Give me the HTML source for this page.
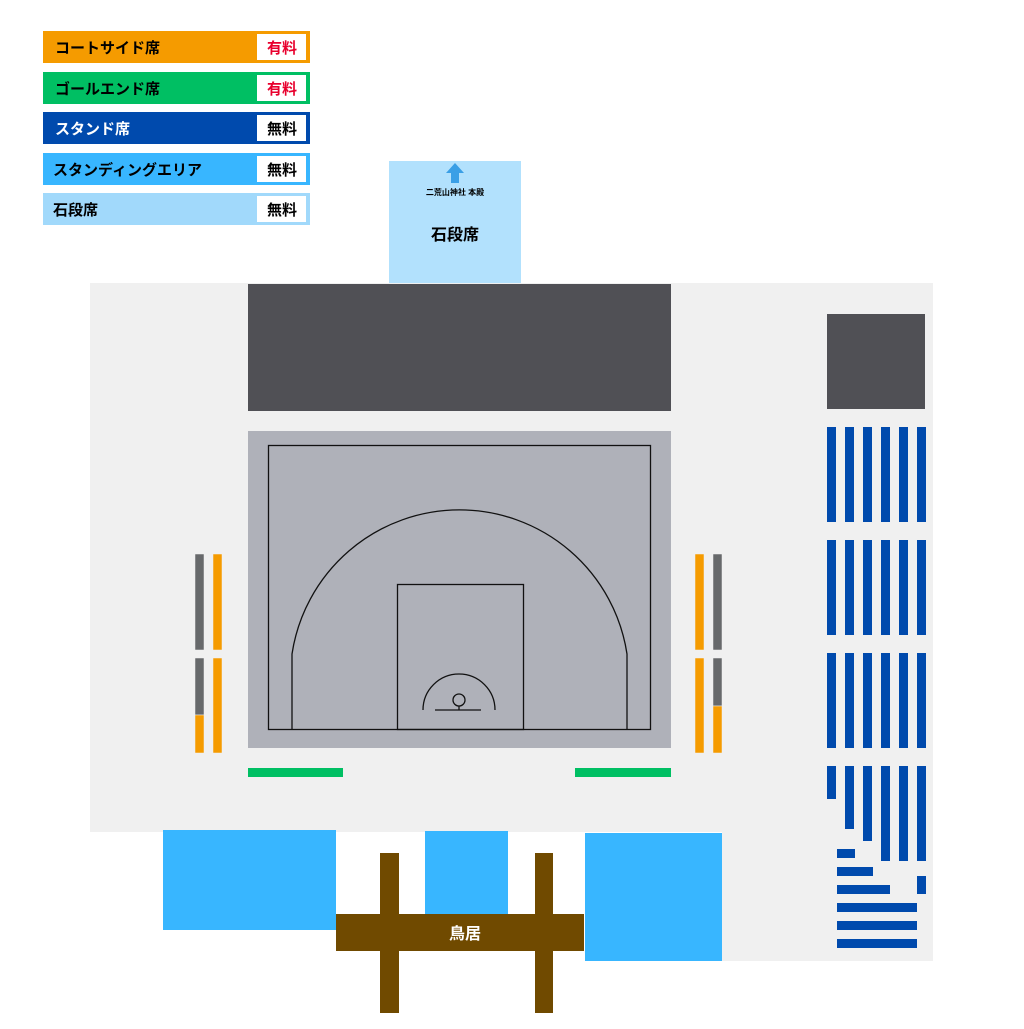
<!DOCTYPE html>
<html><head><meta charset="utf-8"><style>
body{margin:0;background:#fff}
svg text{font-family:"Liberation Sans","Noto Sans CJK JP",sans-serif;font-weight:bold}
</style></head><body>
<svg width="1024" height="1024" viewBox="0 0 1024 1024" xmlns="http://www.w3.org/2000/svg">
<!-- legend -->
<rect x="43" y="31" width="267" height="32" fill="#f59b00"/><rect x="257" y="34" width="49" height="26" fill="#fff"/>
<text x="55" y="53" font-size="15">コートサイド席</text><text x="282" y="53" font-size="15" fill="#e8002d" text-anchor="middle">有料</text>
<rect x="43" y="72" width="267" height="32" fill="#00bf63"/><rect x="257" y="75" width="49" height="26" fill="#fff"/>
<text x="55" y="94" font-size="15">ゴールエンド席</text><text x="282" y="94" font-size="15" fill="#e8002d" text-anchor="middle">有料</text>
<rect x="43" y="112" width="267" height="32" fill="#004aad"/><rect x="257" y="115" width="49" height="26" fill="#fff"/>
<text x="55" y="134" font-size="15" fill="#fff">スタンド席</text><text x="282" y="134" font-size="15" text-anchor="middle">無料</text>
<rect x="43" y="153" width="267" height="32" fill="#38b6ff"/><rect x="257" y="156" width="49" height="26" fill="#fff"/>
<text x="53" y="175" font-size="15">スタンディングエリア</text><text x="282" y="175" font-size="15" text-anchor="middle">無料</text>
<rect x="43" y="193" width="267" height="32" fill="#a1d9fb"/><rect x="257" y="196" width="49" height="26" fill="#fff"/>
<text x="53" y="215" font-size="15">石段席</text><text x="282" y="215" font-size="15" text-anchor="middle">無料</text>
<!-- shrine -->
<rect x="389" y="161" width="132" height="123" fill="#b2e1fd"/>
<polygon points="455,163 464,173 459,173 459,183 451,183 451,173 446,173" fill="#3a9fe6"/>
<text x="455" y="195" font-size="8" text-anchor="middle" font-weight="normal">二荒山神社 本殿</text>
<text x="455" y="240" font-size="16" text-anchor="middle">石段席</text>
<!-- floor -->
<rect x="90" y="283" width="843" height="549" fill="#f0f0f0"/>
<rect x="722" y="283" width="211" height="678" fill="#f0f0f0"/>
<rect x="248" y="284" width="423" height="127" fill="#505055"/>
<rect x="827" y="314" width="98" height="95" fill="#505055"/>
<!-- court -->
<rect x="248" y="431" width="423" height="317" fill="#afb1b9"/>
<g fill="none" stroke="#111" stroke-width="1.3">
<rect x="268.5" y="445.5" width="382" height="284"/>
<path d="M292,729 L292,654 A169.4,169.4 0 0 1 627,654 L627,729"/>
<rect x="397.5" y="584.5" width="126" height="145"/>
<path d="M423,710 A36,36 0 0 1 495,710"/>
<circle cx="459" cy="700" r="6"/>
<path d="M459,706 V710 M435,710 H481"/>
</g>
<!-- side seats -->
<g stroke="#f0f0f0" stroke-width="0.5">
<rect x="195" y="554" width="9" height="96" fill="#67696b"/><rect x="213" y="554" width="9" height="96" fill="#f59b00"/>
<rect x="195" y="658" width="9" height="57" fill="#67696b"/><rect x="195" y="715" width="9" height="38" fill="#f59b00"/><rect x="213" y="658" width="9" height="95" fill="#f59b00"/>
<rect x="713" y="554" width="9" height="96" fill="#67696b"/><rect x="695" y="554" width="9" height="96" fill="#f59b00"/>
<rect x="713" y="658" width="9" height="48" fill="#67696b"/><rect x="713" y="706" width="9" height="47" fill="#f59b00"/><rect x="695" y="658" width="9" height="95" fill="#f59b00"/>
</g>
<rect x="248" y="768" width="95" height="9" fill="#00bf63"/>
<rect x="575" y="768" width="96" height="9" fill="#00bf63"/>
<!-- stand -->
<g fill="#004aad">
<rect x="827" y="427" width="9" height="95"/><rect x="845" y="427" width="9" height="95"/><rect x="863" y="427" width="9" height="95"/><rect x="881" y="427" width="9" height="95"/><rect x="899" y="427" width="9" height="95"/><rect x="917" y="427" width="9" height="95"/>
<rect x="827" y="540" width="9" height="95"/><rect x="845" y="540" width="9" height="95"/><rect x="863" y="540" width="9" height="95"/><rect x="881" y="540" width="9" height="95"/><rect x="899" y="540" width="9" height="95"/><rect x="917" y="540" width="9" height="95"/>
<rect x="827" y="653" width="9" height="95"/><rect x="845" y="653" width="9" height="95"/><rect x="863" y="653" width="9" height="95"/><rect x="881" y="653" width="9" height="95"/><rect x="899" y="653" width="9" height="95"/><rect x="917" y="653" width="9" height="95"/>
<rect x="827" y="766" width="9" height="33"/><rect x="845" y="766" width="9" height="63"/><rect x="863" y="766" width="9" height="75"/><rect x="881" y="766" width="9" height="95"/><rect x="899" y="766" width="9" height="95"/><rect x="917" y="766" width="9" height="95"/>
<rect x="837" y="849" width="18" height="9"/><rect x="837" y="867" width="36" height="9"/><rect x="837" y="885" width="53" height="9"/>
<rect x="917" y="876" width="9" height="18"/>
<rect x="837" y="903" width="80" height="9"/><rect x="837" y="921" width="80" height="9"/><rect x="837" y="939" width="80" height="9"/>
</g>
<!-- standing areas -->
<rect x="163" y="830" width="173" height="100" fill="#38b6ff"/>
<rect x="425" y="831" width="83" height="84" fill="#38b6ff"/>
<rect x="585" y="833" width="137" height="128" fill="#38b6ff"/>
<!-- torii -->
<g fill="#704a00">
<rect x="380" y="853" width="19" height="160"/><rect x="535" y="853" width="18" height="160"/>
<rect x="336" y="914" width="248" height="37"/>
</g>
<text x="465" y="939" font-size="16" fill="#fff" text-anchor="middle">鳥居</text>
</svg>
</body></html>
